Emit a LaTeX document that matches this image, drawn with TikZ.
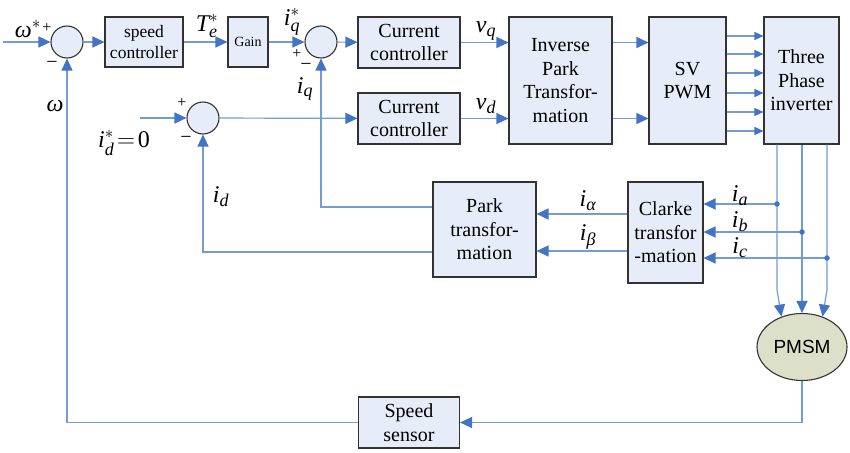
\documentclass[tikz,border=0pt]{standalone}
\usepackage{amsmath}
\usepackage{fontspec}
\setmainfont{Liberation Serif}
\newfontfamily\sansf{Liberation Sans}
\usetikzlibrary{arrows.meta,shapes.geometric,calc}
\DeclareMathSizes{24}{24}{18}{14}
\definecolor{lineblue}{RGB}{115,155,212}
\definecolor{tipblue}{RGB}{68,114,196}
\definecolor{boxfill}{RGB}{230,237,248}
\definecolor{motorfill}{RGB}{221,224,200}
\begin{document}
\begin{tikzpicture}[x=1pt,y=-1pt,
  blk/.style={draw=black!80, line width=1.1pt, fill=boxfill, align=center, inner sep=1pt, font=\fontsize{20}{23.5}\selectfont},
  sumc/.style={circle, draw=black!80, line width=1.1pt, fill=boxfill, minimum size=32pt, inner sep=0pt},
  conn/.style={draw=lineblue, line width=1.2pt},
  arr/.style={conn, -{Triangle[length=12pt,width=11pt,color=tipblue]}},
  sarr/.style={conn, -{Triangle[length=9pt,width=8pt,color=tipblue]}},
  lab/.style={font=\fontsize{24}{24}\selectfont, inner sep=0pt},
  sgn/.style={font=\fontsize{20}{20}\selectfont, inner sep=0pt},
  jdot/.style={circle, fill=tipblue, minimum size=5.5pt, inner sep=0pt}
]
\useasboundingbox (0,0) rectangle (850,452);
% blocks
\node[sumc] (s1) at (67,42) {};
\node[blk, minimum width=78pt, minimum height=50pt, font=\fontsize{17.5}{21}\selectfont] (sc) at (144,42) {speed\\controller};
\node[blk, minimum width=40pt, minimum height=50pt, font=\fontsize{14}{15}\selectfont] (gain) at (248,42) {Gain};
\node[sumc] (s2) at (321,42) {};
\node[blk, minimum width=102pt, minimum height=51pt] (cc1) at (409,42.5) {Current\\controller};
\node[blk, minimum width=102pt, minimum height=51pt] (cc2) at (409,118.5) {Current\\controller};
\node[blk, minimum width=103pt, minimum height=127pt] (ipark) at (560.5,80.5) {Inverse\\Park\\Transfor-\\mation};
\node[blk, minimum width=77pt, minimum height=127pt] (svpwm) at (687.5,80.5) {SV\\PWM};
\node[blk, minimum width=75pt, minimum height=127pt] (inv) at (801.5,80.5) {Three\\Phase\\inverter};
\node[sumc] (s3) at (203,118) {};
\node[blk, minimum width=103pt, minimum height=95pt] (park) at (484.5,229.5) {Park\\transfor-\\mation};
\node[blk, minimum width=75pt, minimum height=101pt] (clarke) at (665.5,232.5) {Clarke\\transfor\\-mation};
\node[ellipse, draw=black!80, line width=1.1pt, fill=motorfill, minimum width=90pt, minimum height=67pt, inner sep=0pt, font=\sansf\fontsize{19}{19}\selectfont] (pmsm) at (802,347) {PMSM};
\node[blk, minimum width=101pt, minimum height=51pt] (ss) at (409,422.5) {Speed\\sensor};
% coordinates
\coordinate (in1) at (3,42);
\coordinate (in3) at (140,118);
\coordinate (pa) at (777,204);
\coordinate (pb) at (802,232);
\coordinate (pc) at (827,258);
\coordinate (ka) at (777,290);
\coordinate (kc) at (827,290);
\coordinate (yq) at (0,207);
\coordinate (yd) at (0,252);
\coordinate (yal) at (0,214);
\coordinate (ybe) at (0,251);
% connectors
\draw[arr] (in1) -- (s1.west);
\draw[arr] (s1) -- (sc);
\draw[arr] (sc) -- (gain);
\draw[arr] (gain) -- (s2);
\draw[arr] (s2) -- (cc1);
\draw[arr] (cc1.east) -- (cc1.east -| ipark.west);
\draw[arr] (cc2.east) -- (cc2.east -| ipark.west);
\draw[arr] (ipark.east |- cc1.east) -- (svpwm.west |- cc1.east);
\draw[arr] (ipark.east |- cc2.east) -- (svpwm.west |- cc2.east);
\foreach \yy in {36,54,73,93,112,131}
  \draw[sarr] (svpwm.east |- 0,\yy) -- (inv.west |- 0,\yy);
\draw[arr] (in3) -- (s3.west);
\draw[arr] (s3) -- (cc2);
\draw[arr] (park.west |- yq) -| (s2.south);
\draw[arr] (park.west |- yd) -| (s3.south);
\draw[arr] (clarke.west |- yal) -- (park.east |- yal);
\draw[arr] (clarke.west |- ybe) -- (park.east |- ybe);
\draw[arr] (inv.south -| pa) -- (ka) -- (pmsm.124);
\draw[arr] (inv.south -| pb) -- (pmsm.north);
\draw[arr] (inv.south -| pc) -- (kc) -- (pmsm.56);
\draw[arr] (pa) -- (pa -| clarke.east);
\draw[arr] (pb) -- (pb -| clarke.east);
\draw[arr] (pc) -- (pc -| clarke.east);
\node[jdot] (da) at (pa) {};
\node[jdot] (db) at (pb) {};
\node[jdot] (dc) at (pc) {};
\draw[arr] (pmsm.south) |- (ss.east);
\draw[arr] (ss.west) -| (s1.south);
% labels
\node[lab] (lw) at (28,29) {$\textit{ω}^{*}$};
\node[sgn, font=\fontsize{16}{16}\selectfont] (p1) at (47,28) {+};
\node[sgn] (m1) at (52,65) {−};
\node[lab] (lw2) at (55,106) {\textit{ω}};
\node[lab] (lte) at (207,26) {$\textit{T}^{*}_{\textit{e}}$};
\node[lab] (liqs) at (292,22) {$\textit{i}^{*}_{\textit{q}}$};
\node[sgn, font=\fontsize{16}{16}\selectfont] (p2) at (297,54) {+};
\node[sgn] (m2) at (306,67) {−};
\node[lab] (liq) at (305,89) {$\textit{i}_{\textit{q}}$};
\node[lab] (lvq) at (486,31) {$\textit{v}_{\textit{q}}$};
\node[lab] (lvd) at (486,106) {$\textit{v}_{\textit{d}}$};
\node[lab] (lids) at (124,143) {$\textit{i}^{*}_{\textit{d}}\!=\!\text{0}$};
\node[sgn, font=\fontsize{16}{16}\selectfont] (p3) at (182,103) {+};
\node[sgn] (m3) at (186,140) {−};
\node[lab] (lid) at (221,197) {$\textit{i}_{\textit{d}}$};
\node[lab] (lal) at (588,201) {$\textit{i}_{\textit{α}}$};
\node[lab] (lbe) at (588,237) {$\textit{i}_{\textit{β}}$};
\node[lab] (lia) at (740,196) {$\textit{i}_{\textit{a}}$};
\node[lab] (lib) at (740,222) {$\textit{i}_{\textit{b}}$};
\node[lab] (lic) at (740,248) {$\textit{i}_{\textit{c}}$};
\end{tikzpicture}
\end{document}
